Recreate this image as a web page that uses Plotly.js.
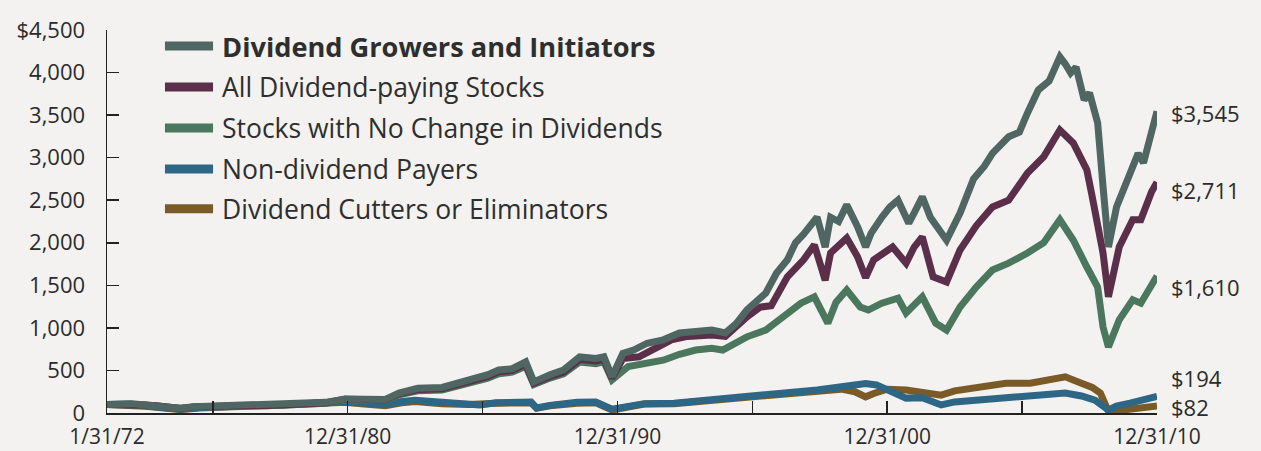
<!DOCTYPE html>
<html><head><meta charset="utf-8">
<script src="https://cdn.plot.ly/plotly-3.0.1.min.js"></script>
<style>html,body{margin:0;padding:0;background:#f3f2f0;overflow:hidden;}</style>
</head><body><div id="chart" style="width:1261px;height:451px;"></div>
<script>
// Series names, colours, end labels
const seriesNames = ['Dividend Growers and Initiators','All Dividend-paying Stocks','Stocks with No Change in Dividends','Non-dividend Payers','Dividend Cutters or Eliminators'];
const seriesColors = ['#4f6662','#5b2f49','#4b775e','#2e6686','#7a5b28'];
const endLabels = ['$3,545','$2,711','$1,610','$194','$82'];

// X axis ticks (decimal years)
const tickYears = [1972.08,1976,1981,1986,1991,1996,2001,2006,2011];
const tickLabels = ['1/31/72','','12/31/80','','12/31/90','','12/31/00','','12/31/10'];
const yTickVals = [0,500,1000,1500,2000,2500,3000,3500,4000,4500];
const yTickText = ['0','500','1,000','1,500','2,000','2,500','3,000','3,500','4,000','$4,500'];

// Dividend Growers and Initiators
const growersX = [1972.08,1972.5,1973.0,1973.5,1974.0,1974.5,1974.8,1975.3,1975.8,1976.5,1977.2,1978.0,1978.7,1979.5,1980.2,1980.9,1981.5,1982.4,1982.9,1983.6,1984.5,1985.0,1985.5,1986.2,1986.6,1987.1,1987.6,1987.9,1988.5,1989.0,1989.6,1990.2,1990.5,1990.8,1991.2,1991.6,1992.1,1992.7,1993.3,1993.9,1994.5,1995.0,1995.4,1995.8,1996.2,1996.5,1996.9,1997.3,1997.6,1997.9,1998.4,1998.7,1998.9,1999.2,1999.5,1999.9,2000.2,2000.4,2000.8,2001.1,2001.4,2001.8,2002.0,2002.3,2002.6,2002.9,2003.2,2003.7,2004.2,2004.6,2004.9,2005.5,2005.9,2006.2,2006.6,2007.0,2007.4,2007.6,2007.8,2008.0,2008.3,2008.5,2008.8,2009.0,2009.2,2009.5,2009.97,2010.3,2010.5,2010.8,2011.0];
const growersY = [100,105,110,95,85,65,55,75,80,95,92,90,105,115,125,165,170,160,235,290,300,340,390,450,505,520,600,365,450,505,660,640,660,425,700,740,820,860,940,960,975,940,1050,1210,1330,1410,1645,1800,2000,2100,2300,1950,2300,2250,2445,2190,1950,2110,2300,2420,2500,2230,2350,2540,2300,2150,2030,2350,2750,2900,3050,3245,3300,3525,3795,3900,4185,4100,3995,4065,3680,3760,3410,2660,1950,2420,2770,3050,2940,3350,3545];

// All Dividend-paying Stocks
const allDivX = [1972.08,1972.5,1973.0,1973.5,1974.0,1974.5,1974.8,1975.3,1975.8,1976.5,1977.2,1978.0,1978.7,1979.5,1980.2,1980.9,1981.5,1982.4,1982.9,1983.6,1984.5,1985.0,1985.5,1986.2,1986.6,1987.1,1987.6,1987.9,1988.5,1989.0,1989.6,1990.2,1990.5,1990.8,1991.2,1991.8,1992.4,1993.0,1993.6,1994.5,1995.0,1995.8,1996.3,1996.7,1997.3,1997.9,1998.3,1998.7,1998.9,1999.5,1999.9,2000.2,2000.5,2000.9,2001.2,2001.7,2002.0,2002.3,2002.7,2003.2,2003.7,2004.3,2004.9,2005.5,2006.2,2006.8,2007.4,2007.9,2008.4,2008.6,2009.0,2009.2,2009.6,2010.1,2010.4,2010.8,2011.0];
const allDivY = [100,104,108,93,82,62,53,72,78,92,88,87,100,110,120,160,163,152,225,275,285,325,370,430,485,500,575,350,430,480,630,610,630,410,640,660,760,860,900,915,900,1130,1245,1260,1600,1800,1975,1560,1880,2055,1835,1590,1800,1900,1950,1760,1950,2070,1600,1540,1915,2200,2420,2500,2820,3010,3325,3170,2855,2540,1880,1365,1950,2270,2270,2600,2711];

// Stocks with No Change in Dividends
const noChangeX = [1972.08,1972.5,1973.0,1973.5,1974.0,1974.5,1974.8,1975.3,1975.8,1976.5,1977.2,1978.0,1978.7,1979.5,1980.2,1980.9,1981.5,1982.4,1982.9,1983.6,1984.5,1985.0,1985.5,1986.2,1986.6,1987.1,1987.6,1987.9,1988.5,1989.0,1989.6,1990.2,1990.5,1990.8,1991.4,1992.0,1992.7,1993.3,1993.9,1994.5,1994.9,1995.8,1996.5,1997.0,1997.8,1998.3,1998.8,1999.1,1999.5,2000.0,2000.3,2000.8,2001.4,2001.7,2002.3,2002.8,2003.2,2003.7,2004.3,2004.9,2005.5,2006.2,2006.8,2007.4,2007.9,2008.4,2008.8,2009.0,2009.2,2009.6,2010.1,2010.4,2010.8,2011.0];
const noChangeY = [100,103,105,90,80,60,52,70,76,90,86,85,97,105,115,150,155,145,215,260,270,305,350,410,460,480,550,335,410,460,600,580,600,390,545,580,620,690,740,760,740,895,975,1095,1290,1365,1055,1300,1445,1245,1210,1290,1350,1175,1365,1055,975,1245,1480,1680,1760,1880,2000,2270,2030,1715,1480,1010,775,1095,1330,1290,1500,1610];

// Non-dividend Payers
const nonDivX = [1972.08,1972.9,1973.5,1974.0,1974.8,1975.5,1976.5,1977.5,1978.5,1979.5,1980.2,1980.9,1981.5,1982.4,1983.0,1983.5,1984.5,1985.5,1985.9,1986.5,1987.8,1988.0,1988.5,1989.5,1990.2,1990.8,1991.1,1992.0,1993.1,1994.5,1995.8,1996.8,1997.5,1998.4,1999.3,2000.2,2000.6,2001.0,2001.7,2002.3,2003.0,2003.5,2004.3,2005.3,2006.3,2007.0,2007.6,2008.2,2008.7,2009.2,2009.5,2010.0,2010.5,2011.0];
const nonDivY = [100,105,85,70,45,65,85,85,95,105,115,135,120,100,135,150,125,110,95,120,130,60,90,125,130,45,60,110,115,150,190,220,245,270,300,345,330,270,175,180,95,130,150,175,190,210,235,200,150,35,80,115,150,194];

// Dividend Cutters or Eliminators
const cuttersX = [1972.08,1972.9,1973.5,1974.0,1974.8,1975.5,1976.5,1977.5,1978.5,1979.5,1980.2,1980.9,1981.5,1982.4,1983.0,1983.5,1984.5,1985.5,1986.5,1987.8,1988.0,1988.5,1989.5,1990.2,1990.8,1991.1,1992.0,1993.1,1994.5,1995.8,1996.8,1997.5,1998.4,1999.3,1999.8,2000.2,2000.5,2001.0,2001.7,2002.3,2003.0,2003.5,2004.3,2005.4,2006.3,2007.0,2007.6,2008.2,2008.6,2008.9,2009.2,2009.6,2010.0,2010.5,2011.0];
const cuttersY = [100,100,80,65,40,60,80,82,90,100,110,125,110,85,120,135,110,100,115,120,55,85,115,120,35,55,105,110,145,185,215,240,260,280,250,190,230,280,270,250,210,260,305,350,350,380,425,350,300,235,20,30,40,60,82];

const xs = [growersX, allDivX, noChangeX, nonDivX, cuttersX];
const ys = [growersY, allDivY, noChangeY, nonDivY, cuttersY];
const labelShift = [-2,-8,-11,18,-1];

const traces = [];
for (let i = 4; i >= 0; i--) {
  traces.push({
    x: xs[i], y: ys[i], name: seriesNames[i], type: 'scatter', mode: 'lines',
    line: {color: seriesColors[i], width: 7, shape: 'linear'},
    hoverinfo: 'x+y', showlegend: false
  });
}

const FONT = '"Open Sans", "Noto Sans", sans-serif';
const shapes = [];
const annotations = [];
const legendRows = [0.958, 0.851, 0.744, 0.637, 0.533];
for (let i = 0; i < 5; i++) {
  shapes.push({type:'line', xref:'paper', yref:'paper', x0:0.0552, x1:0.101, y0:legendRows[i], y1:legendRows[i],
    line:{color: seriesColors[i], width: 9}});
  annotations.push({xref:'paper', yref:'paper', x:0.1075, y:legendRows[i], xanchor:'left', yanchor:'middle',
    text: i === 0 ? '<b>' + seriesNames[i] + '</b>' : seriesNames[i], showarrow:false,
    font:{family: FONT, size: i === 0 ? 27.2 : 26.5, color:'#2e2e2e'}});
  const xv = xs[i], yv = ys[i];
  annotations.push({xref:'x', yref:'y', x: xv[xv.length-1], y: yv[yv.length-1], xanchor:'left', yanchor:'middle',
    xshift: 12, yshift: labelShift[i], text: endLabels[i], showarrow:false,
    font:{family: FONT, size: 22, color:'#2b2b2b'}});
}

const layout = {
  width: 1261, height: 451,
  margin: {l:107, r:104, t:30, b:38, pad:0},
  paper_bgcolor: '#f3f2f0', plot_bgcolor: '#f3f2f0',
  font: {family: FONT, size: 21, color:'#2b2b2b'},
  showlegend: false,
  xaxis: {
    type:'linear', range:[1972.08, 2011.0], showgrid:false, zeroline:false,
    showline:true, linecolor:'#222', linewidth:1.5,
    tickmode:'array', tickvals: tickYears, ticktext: tickLabels,
    ticks:'inside', ticklen:12, tickwidth:1.5, tickcolor:'#222',
    tickfont:{family: FONT, size: 21, color:'#2b2b2b'}, ticklabelstandoff: 4
  },
  yaxis: {
    range:[0,4500], showgrid:false, zeroline:false,
    showline:true, linecolor:'#222', linewidth:1.5,
    tickmode:'array', tickvals: yTickVals, ticktext: yTickText,
    ticks:'inside', ticklen:12, tickwidth:1.5, tickcolor:'#222',
    tickfont:{family: FONT, size: 22, color:'#2b2b2b'}, ticklabelstandoff: 16
  },
  shapes: shapes,
  annotations: annotations
};

Plotly.newPlot('chart', traces, layout, {staticPlot:true, displayModeBar:false});
</script>
</body></html>
